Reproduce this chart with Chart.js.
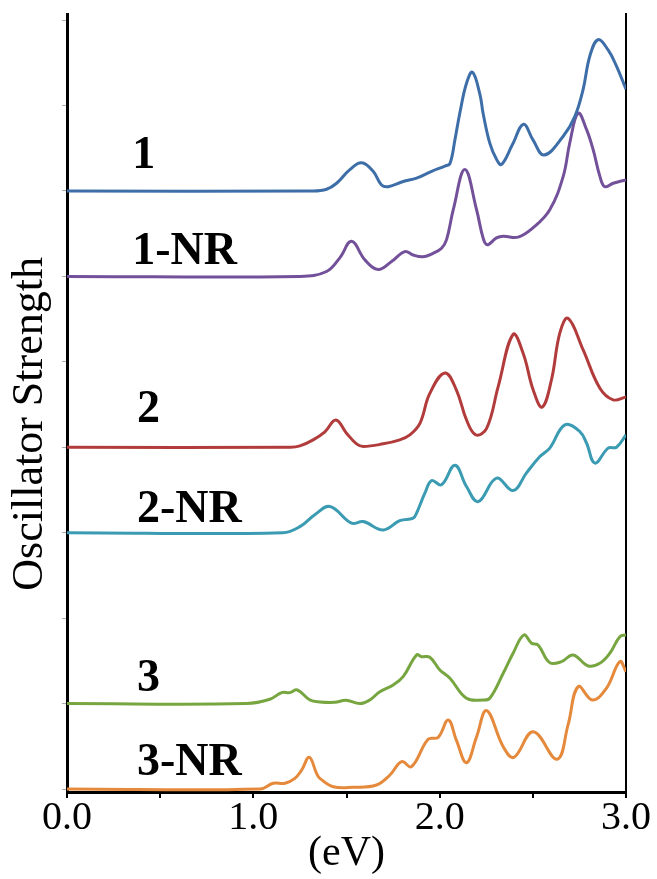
<!DOCTYPE html>
<html>
<head>
<meta charset="utf-8">
<script src="https://cdn.jsdelivr.net/npm/chart.js@4.4.1/dist/chart.umd.min.js"></script>
<style>
html,body{margin:0;padding:0;background:#fff;}
#wrap{width:657px;height:879px;position:relative;}
</style>
</head>
<body>
<div id="wrap"><canvas id="c"></canvas></div>
<script>
// ---- data (energy in eV, oscillator strength in offset axis units) ----
const seriesNames = ['1', '1-NR', '2', '2-NR', '3', '3-NR'];
const seriesColors = ['#3d6ea8', '#73519a', '#b23c3c', '#3a9bb2', '#77a640', '#e58a3c'];

const energy1 = [0, 1.32, 1.393, 1.447, 1.518, 1.581, 1.643, 1.688, 1.724, 1.804, 1.876, 1.957, 2.028, 2.055, 2.082, 2.108, 2.144, 2.176, 2.216, 2.233, 2.269, 2.305, 2.332, 2.39, 2.45, 2.50, 2.56, 2.663, 2.725, 2.77, 2.806, 2.85, 2.904, 2.949, 3.0];
const strength1 = [7.0, 7.0, 7.02, 7.09, 7.25, 7.33, 7.23, 7.07, 7.05, 7.11, 7.15, 7.23, 7.29, 7.32, 7.60, 7.91, 8.26, 8.39, 8.13, 7.91, 7.56, 7.37, 7.31, 7.54, 7.78, 7.60, 7.42, 7.64, 7.87, 8.19, 8.58, 8.77, 8.65, 8.46, 8.19];

const energy1NR = [0, 1.25, 1.393, 1.465, 1.527, 1.60, 1.67, 1.74, 1.813, 1.858, 1.911, 1.965, 2.01, 2.037, 2.073, 2.135, 2.198, 2.233, 2.255, 2.305, 2.341, 2.421, 2.502, 2.591, 2.663, 2.698, 2.743, 2.788, 2.824, 2.86, 2.886, 2.931, 3.0];
const strength1NR = [6.0, 6.0, 6.057, 6.22, 6.41, 6.19, 6.08, 6.17, 6.29, 6.25, 6.23, 6.27, 6.33, 6.43, 6.78, 7.25, 6.78, 6.45, 6.37, 6.45, 6.47, 6.46, 6.57, 6.78, 7.17, 7.56, 7.91, 7.72, 7.48, 7.17, 7.05, 7.09, 7.13];

const energy2 = [0, 1.20, 1.25, 1.321, 1.384, 1.443, 1.50, 1.554, 1.59, 1.697, 1.786, 1.84, 1.894, 1.947, 2.028, 2.09, 2.144, 2.194, 2.252, 2.314, 2.394, 2.448, 2.502, 2.55, 2.60, 2.645, 2.689, 2.77, 2.86, 2.931, 3.0];
const strength2 = [4.0, 4.0, 4.016, 4.087, 4.18, 4.32, 4.165, 4.04, 4.01, 4.04, 4.087, 4.145, 4.28, 4.63, 4.87, 4.67, 4.32, 4.145, 4.22, 4.71, 5.32, 5.10, 4.67, 4.47, 4.79, 5.34, 5.51, 5.14, 4.69, 4.555, 4.59];

const energy2NR = [0, 1.159, 1.25, 1.33, 1.411, 1.527, 1.59, 1.697, 1.786, 1.858, 1.876, 1.92, 1.957, 2.01, 2.082, 2.144, 2.207, 2.305, 2.394, 2.466, 2.538, 2.591, 2.672, 2.752, 2.788, 2.833, 2.904, 2.949, 3.0];
const strength2NR = [3.0, 3.0, 3.071, 3.21, 3.306, 3.111, 3.13, 3.033, 3.142, 3.17, 3.23, 3.46, 3.61, 3.56, 3.79, 3.54, 3.364, 3.638, 3.493, 3.70, 3.891, 3.99, 4.262, 4.184, 4.05, 3.814, 3.99, 4.0, 4.145];

const energy3 = [0, 0.964, 1.089, 1.152, 1.196, 1.236, 1.304, 1.357, 1.438, 1.497, 1.572, 1.625, 1.679, 1.751, 1.804, 1.876, 1.903, 1.947, 2.001, 2.055, 2.144, 2.233, 2.269, 2.341, 2.394, 2.452, 2.493, 2.528, 2.591, 2.654, 2.716, 2.797, 2.859, 2.913, 2.967, 3.0];
const strength3 = [1.0, 1.0, 1.05, 1.128, 1.128, 1.159, 1.042, 1.019, 1.015, 1.039, 1.0, 1.042, 1.139, 1.218, 1.315, 1.569, 1.549, 1.542, 1.393, 1.296, 1.062, 1.042, 1.062, 1.355, 1.589, 1.803, 1.706, 1.686, 1.479, 1.491, 1.569, 1.44, 1.472, 1.589, 1.783, 1.803];

const energy3NR = [0, 1.035, 1.107, 1.17, 1.223, 1.259, 1.30, 1.34, 1.357, 1.429, 1.536, 1.661, 1.733, 1.796, 1.849, 1.938, 1.992, 2.046, 2.09, 2.144, 2.198, 2.252, 2.341, 2.398, 2.502, 2.63, 2.689, 2.743, 2.82, 2.895, 2.967, 3.0];
const strength3NR = [0, 0, 0.067, 0.067, 0.125, 0.22, 0.371, 0.18, 0.125, 0.027, 0.02, 0.047, 0.164, 0.32, 0.261, 0.582, 0.605, 0.808, 0.57, 0.308, 0.61, 0.917, 0.495, 0.371, 0.671, 0.348, 0.75, 1.198, 1.042, 1.179, 1.491, 1.374];

const xTicks = [0, 0.5, 1.0, 1.5, 2.0, 2.5, 3.0];
const yTicks = [0, 1, 2, 3, 4, 5, 6, 7, 8, 9];

// label anchor positions (x in eV, y in axis units)
const labelX = [0.35, 0.35, 0.375, 0.375, 0.375, 0.375];
const labelY = [7.27, 6.14, 4.29, 3.13, 1.15, 0.16];

const energies = [energy1, energy1NR, energy2, energy2NR, energy3, energy3NR];
const strengths = [strength1, strength1NR, strength2, strength2NR, strength3, strength3NR];

const datasets = seriesNames.map((name, i) => ({
  label: name,
  data: energies[i].map((e, j) => ({x: e, y: strengths[i][j]})),
  borderColor: seriesColors[i],
  borderWidth: 3,
  pointRadius: 0,
  fill: false,
  tension: 0.4,
  yAxisID: 'y'
}));

const labelPlugin = {
  id: 'seriesLabels',
  afterDatasetsDraw(chart) {
    const {ctx, scales: {x, y}} = chart;
    ctx.save();
    ctx.font = 'bold 46px "Liberation Serif", "Times New Roman", serif';
    ctx.fillStyle = '#000';
    ctx.textBaseline = 'alphabetic';
    ctx.textAlign = 'left';
    seriesNames.forEach((n, i) => {
      ctx.fillText(n, x.getPixelForValue(labelX[i]), y.getPixelForValue(labelY[i]));
    });
    ctx.restore();
  }
};

new Chart(document.getElementById('c'), {
  type: 'line',
  data: {datasets},
  plugins: [labelPlugin],
  options: {
    responsive: true,
    maintainAspectRatio: false,
    animation: false,
    devicePixelRatio: 1,
    layout: {padding: {left: 0, right: 31, top: 14, bottom: 0}},
    plugins: {legend: {display: false}, tooltip: {enabled: false}},
    scales: {
      x: {
        type: 'linear',
        min: 0, max: 3,
        afterBuildTicks: s => { s.ticks = xTicks.map(v => ({value: v})); },
        afterFit: s => { s.height = 87; s.paddingLeft = 0; s.paddingRight = 0; },
        ticks: {
          autoSkip: false,
          maxRotation: 0,
          padding: -3.5,
          color: '#000',
          font: {family: '"Liberation Serif", "Times New Roman", serif', size: 40},
          callback: v => (Math.abs(v - Math.round(v)) < 1e-9 ? v.toFixed(1) : '')
        },
        grid: {drawOnChartArea: false, drawTicks: true, tickLength: 6, color: '#000', lineWidth: 2},
        border: {display: true, color: '#000', width: 3},
        title: {
          display: true, text: '(eV)', color: '#000',
          font: {family: '"Liberation Serif", "Times New Roman", serif', size: 42},
          padding: {top: 0, bottom: 0}
        }
      },
      y: {
        type: 'linear',
        position: 'left',
        min: -0.035, max: 9.071,
        afterBuildTicks: s => { s.ticks = yTicks.map(v => ({value: v})); },
        afterFit: s => { s.width = 67; s.paddingTop = 0; s.paddingBottom = 0; },
        ticks: {display: false},
        grid: {drawOnChartArea: false, drawTicks: true, tickLength: 5, color: '#aaa', lineWidth: 1},
        border: {display: true, color: '#000', width: 3},
        title: {
          display: true, text: 'Oscillator Strength\u00a0\u00a0\u00a0\u2009', color: '#000',
          font: {family: '"Liberation Serif", "Times New Roman", serif', size: 44},
          padding: {top: 4, bottom: 0}
        }
      },
      y2: {
        type: 'linear',
        position: 'right',
        min: 0, max: 1,
        afterFit: s => { s.width = 0; },
        ticks: {display: false},
        grid: {drawOnChartArea: false, drawTicks: false},
        border: {display: true, color: '#000', width: 2}
      }
    }
  }
});
</script>
</body>
</html>
